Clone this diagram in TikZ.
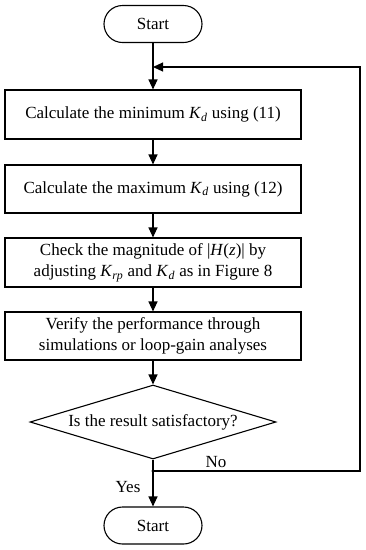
\documentclass[tikz,border=0pt]{standalone}
\usepackage{fontspec}
\setmainfont{Liberation Serif}
\usetikzlibrary{shapes.geometric,shapes.misc,arrows.meta}
\newcommand{\ivar}[2]{\textit{#1}\textsubscript{\textit{#2}}}
\begin{document}
\begin{tikzpicture}[x=1pt,y=-1pt,
  every node/.style={font=\fontsize{17}{21}\selectfont},
  line/.style={line width=1.1pt},
  arr/.style={line, -{Triangle[length=10pt,width=9pt]}},
  term/.style={draw,line width=1.1pt,rounded rectangle,minimum width=98pt,minimum height=37pt,inner sep=0pt},
  proc/.style={draw,line width=1.1pt,rectangle,minimum width=296pt,inner sep=0pt,align=center}]
\useasboundingbox (0,0) rectangle (366,550);
\node[term] (start) at (153,24) {Start};
\node[proc,minimum height=49pt] (b1) at (153,114.5) {Calculate the minimum \ivar{K}{d} using (11)};
\node[proc,minimum height=48pt] (b2) at (153,189) {Calculate the maximum \ivar{K}{d} using (12)};
\node[proc,minimum height=49pt] (b3) at (153,262.5) {Check the magnitude of |\textit{H}(\textit{z})| by\\adjusting \ivar{K}{rp} and \ivar{K}{d} as in Figure 8};
\node[proc,minimum height=48pt] (b4) at (153,336) {Verify the performance through\\simulations or loop-gain analyses};
\node[draw,line width=1.1pt,diamond,aspect=3.32,minimum width=246pt,minimum height=74pt,inner sep=0pt] (dec) at (153,422) {};
\node at (153,422) {Is the result satisfactory?};
\node[term] (end) at (153,525.5) {Start};
\coordinate (j1) at (153,67);
\coordinate (j2) at (153,471);
\coordinate (r1) at (360,67);
\coordinate (r2) at (360,471);
\draw[line] (start.south) -- (j1);
\draw[arr] (j1) -- (b1.north);
\draw[arr] (b1.south) -- (b2.north);
\draw[arr] (b2.south) -- (b3.north);
\draw[arr] (b3.south) -- (b4.north);
\draw[arr] (b4.south) -- (dec.north);
\draw[line] (dec.south) -- (j2);
\draw[arr] (j2) -- (end.north);
\draw[arr] (j2) -- (r2) -- (r1) -- (j1);
\fill (j2) circle (1.6pt);
\node at (216,462) {No};
\node at (128,487) {Yes};
\end{tikzpicture}
\end{document}
